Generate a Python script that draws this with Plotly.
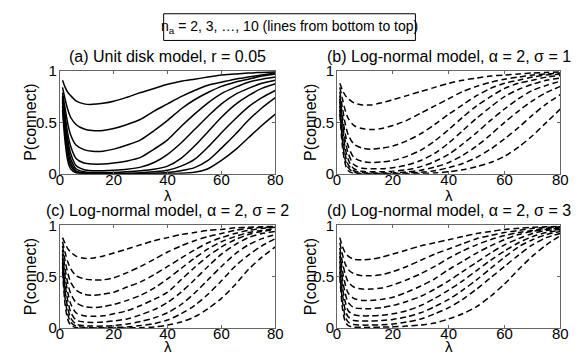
import plotly.graph_objects as go

# ---------------- data ----------------
LAMBDA = [1, 2, 3, 4, 6, 9, 12, 16, 20, 25, 30, 35, 40, 45, 50, 55, 60, 65, 70, 75, 80]
N_A = [2, 3, 4, 5, 6, 7, 8, 9, 10]

# (a) Unit disk model, r = 0.05  (one list per n_a, bottom to top)
P_UNIT_DISK = [
    [0.62, 0.30, 0.12, 0.05, 0.01, 0.002, 0.0, 0.0, 0.0, 0.0, 0.0, 0.001, 0.002, 0.005, 0.015, 0.05, 0.13, 0.23, 0.35, 0.47, 0.58],
    [0.66, 0.36, 0.17, 0.08, 0.02, 0.004, 0.002, 0.001, 0.001, 0.001, 0.002, 0.006, 0.012, 0.03, 0.06, 0.13, 0.25, 0.38, 0.52, 0.64, 0.74],
    [0.70, 0.42, 0.22, 0.11, 0.03, 0.009, 0.005, 0.004, 0.004, 0.006, 0.01, 0.02, 0.035, 0.075, 0.14, 0.26, 0.40, 0.53, 0.65, 0.74, 0.81],
    [0.72, 0.47, 0.27, 0.15, 0.05, 0.02, 0.013, 0.012, 0.013, 0.02, 0.03, 0.045, 0.075, 0.15, 0.27, 0.41, 0.55, 0.67, 0.76, 0.83, 0.875],
    [0.74, 0.51, 0.32, 0.20, 0.08, 0.04, 0.03, 0.03, 0.035, 0.045, 0.065, 0.11, 0.19, 0.30, 0.43, 0.56, 0.68, 0.77, 0.83, 0.88, 0.91],
    [0.76, 0.56, 0.38, 0.27, 0.15, 0.105, 0.095, 0.095, 0.105, 0.125, 0.16, 0.24, 0.33, 0.46, 0.58, 0.69, 0.78, 0.84, 0.89, 0.92, 0.94],
    [0.79, 0.63, 0.48, 0.38, 0.28, 0.235, 0.22, 0.22, 0.24, 0.28, 0.33, 0.42, 0.52, 0.63, 0.72, 0.79, 0.85, 0.89, 0.92, 0.95, 0.97],
    [0.84, 0.72, 0.62, 0.55, 0.48, 0.435, 0.42, 0.42, 0.44, 0.48, 0.53, 0.61, 0.68, 0.75, 0.81, 0.86, 0.89, 0.92, 0.94, 0.96, 0.98],
    [0.91, 0.84, 0.79, 0.76, 0.71, 0.68, 0.675, 0.685, 0.705, 0.745, 0.79, 0.83, 0.87, 0.90, 0.92, 0.94, 0.96, 0.97, 0.98, 0.985, 0.99],
]

# (b) Log-normal model, alpha = 2, sigma = 1
P_LOGNORM_S1 = [
    [0.58, 0.25, 0.09, 0.03, 0.005, 0.001, 0.0, 0.0, 0.0, 0.001, 0.003, 0.008, 0.02, 0.04, 0.07, 0.11, 0.17, 0.26, 0.37, 0.50, 0.63],
    [0.62, 0.31, 0.13, 0.06, 0.015, 0.005, 0.003, 0.003, 0.004, 0.008, 0.015, 0.03, 0.06, 0.10, 0.16, 0.24, 0.34, 0.45, 0.57, 0.68, 0.77],
    [0.66, 0.37, 0.18, 0.09, 0.03, 0.012, 0.008, 0.008, 0.01, 0.018, 0.035, 0.065, 0.11, 0.18, 0.27, 0.38, 0.50, 0.61, 0.71, 0.79, 0.85],
    [0.70, 0.43, 0.24, 0.14, 0.05, 0.025, 0.02, 0.02, 0.025, 0.04, 0.07, 0.12, 0.19, 0.29, 0.40, 0.52, 0.63, 0.73, 0.81, 0.86, 0.90],
    [0.73, 0.49, 0.31, 0.20, 0.09, 0.055, 0.05, 0.05, 0.06, 0.085, 0.13, 0.20, 0.30, 0.42, 0.54, 0.65, 0.75, 0.82, 0.87, 0.91, 0.93],
    [0.76, 0.55, 0.38, 0.27, 0.16, 0.12, 0.11, 0.115, 0.13, 0.17, 0.23, 0.32, 0.43, 0.55, 0.66, 0.75, 0.83, 0.88, 0.91, 0.94, 0.955],
    [0.80, 0.63, 0.48, 0.38, 0.29, 0.25, 0.24, 0.25, 0.27, 0.32, 0.39, 0.48, 0.58, 0.67, 0.76, 0.83, 0.88, 0.91, 0.94, 0.96, 0.97],
    [0.84, 0.72, 0.61, 0.54, 0.47, 0.44, 0.43, 0.44, 0.47, 0.52, 0.59, 0.66, 0.73, 0.80, 0.85, 0.89, 0.92, 0.94, 0.96, 0.97, 0.98],
    [0.88, 0.81, 0.76, 0.73, 0.69, 0.67, 0.67, 0.69, 0.72, 0.76, 0.80, 0.84, 0.88, 0.91, 0.93, 0.95, 0.96, 0.97, 0.98, 0.985, 0.99],
]

# (c) Log-normal model, alpha = 2, sigma = 2
P_LOGNORM_S2 = [
    [0.55, 0.22, 0.08, 0.03, 0.006, 0.002, 0.001, 0.001, 0.001, 0.002, 0.005, 0.012, 0.03, 0.06, 0.11, 0.19, 0.29, 0.42, 0.57, 0.69, 0.79],
    [0.60, 0.28, 0.13, 0.06, 0.02, 0.008, 0.005, 0.005, 0.007, 0.012, 0.025, 0.045, 0.08, 0.14, 0.22, 0.33, 0.46, 0.60, 0.71, 0.80, 0.87],
    [0.64, 0.35, 0.19, 0.10, 0.04, 0.025, 0.02, 0.02, 0.025, 0.04, 0.065, 0.10, 0.15, 0.23, 0.34, 0.47, 0.60, 0.72, 0.81, 0.87, 0.91],
    [0.68, 0.42, 0.26, 0.16, 0.08, 0.06, 0.055, 0.06, 0.07, 0.09, 0.13, 0.18, 0.25, 0.35, 0.47, 0.60, 0.72, 0.81, 0.88, 0.92, 0.94],
    [0.72, 0.49, 0.34, 0.24, 0.15, 0.12, 0.115, 0.12, 0.14, 0.17, 0.22, 0.28, 0.35, 0.47, 0.59, 0.70, 0.79, 0.86, 0.91, 0.94, 0.96],
    [0.76, 0.57, 0.43, 0.34, 0.25, 0.21, 0.20, 0.21, 0.23, 0.27, 0.32, 0.39, 0.48, 0.58, 0.68, 0.77, 0.84, 0.89, 0.93, 0.95, 0.97],
    [0.80, 0.65, 0.53, 0.45, 0.37, 0.33, 0.32, 0.33, 0.35, 0.40, 0.45, 0.52, 0.60, 0.68, 0.76, 0.83, 0.88, 0.92, 0.95, 0.97, 0.98],
    [0.84, 0.73, 0.64, 0.58, 0.51, 0.48, 0.47, 0.47, 0.49, 0.54, 0.60, 0.67, 0.74, 0.80, 0.85, 0.89, 0.92, 0.95, 0.97, 0.98, 0.985],
    [0.88, 0.82, 0.77, 0.74, 0.70, 0.68, 0.68, 0.70, 0.73, 0.77, 0.81, 0.85, 0.88, 0.91, 0.93, 0.95, 0.96, 0.975, 0.98, 0.985, 0.99],
]

# (d) Log-normal model, alpha = 2, sigma = 3
P_LOGNORM_S3 = [
    [0.50, 0.18, 0.06, 0.025, 0.01, 0.008, 0.008, 0.01, 0.013, 0.02, 0.03, 0.05, 0.09, 0.14, 0.21, 0.31, 0.43, 0.57, 0.70, 0.81, 0.90],
    [0.55, 0.25, 0.11, 0.06, 0.035, 0.03, 0.03, 0.033, 0.04, 0.06, 0.09, 0.14, 0.20, 0.28, 0.38, 0.49, 0.60, 0.71, 0.81, 0.88, 0.92],
    [0.60, 0.32, 0.17, 0.11, 0.075, 0.07, 0.07, 0.075, 0.085, 0.11, 0.15, 0.21, 0.28, 0.37, 0.47, 0.58, 0.69, 0.79, 0.86, 0.91, 0.94],
    [0.65, 0.39, 0.25, 0.17, 0.13, 0.12, 0.12, 0.125, 0.14, 0.17, 0.22, 0.29, 0.37, 0.46, 0.56, 0.66, 0.75, 0.83, 0.89, 0.93, 0.95],
    [0.70, 0.47, 0.33, 0.25, 0.20, 0.19, 0.19, 0.20, 0.22, 0.26, 0.31, 0.38, 0.46, 0.55, 0.64, 0.73, 0.81, 0.87, 0.92, 0.95, 0.96],
    [0.74, 0.55, 0.42, 0.34, 0.29, 0.27, 0.27, 0.28, 0.30, 0.35, 0.41, 0.48, 0.57, 0.65, 0.73, 0.80, 0.86, 0.91, 0.94, 0.96, 0.97],
    [0.78, 0.63, 0.52, 0.45, 0.40, 0.38, 0.38, 0.39, 0.42, 0.47, 0.53, 0.60, 0.68, 0.75, 0.81, 0.86, 0.90, 0.93, 0.95, 0.97, 0.98],
    [0.83, 0.71, 0.62, 0.57, 0.53, 0.51, 0.51, 0.52, 0.55, 0.60, 0.66, 0.72, 0.77, 0.82, 0.87, 0.90, 0.93, 0.95, 0.97, 0.98, 0.985],
    [0.88, 0.79, 0.73, 0.70, 0.67, 0.665, 0.67, 0.69, 0.72, 0.76, 0.80, 0.83, 0.86, 0.89, 0.92, 0.94, 0.96, 0.97, 0.98, 0.985, 0.99],
]

TITLES = [
    "(a) Unit disk model, r = 0.05",
    "(b) Log-normal model, \u03b1 = 2, \u03c3 = 1",
    "(c) Log-normal model, \u03b1 = 2, \u03c3 = 2",
    "(d) Log-normal model, \u03b1 = 2, \u03c3 = 3",
]
X_TICKS = [0, 20, 40, 60, 80]
Y_TICKS = [0, 0.5, 1]
Y_TICK_TEXT = ["0", "0.5", "1"]
LEGEND_TEXT = "n<sub>a</sub> = 2, 3, \u2026, 10 (lines from bottom to top)"

# ---------------- layout helpers ----------------
W, H = 586, 360
FONT = "Liberation Sans, Arial, sans-serif"


def fx(x):
    return x / W


def fy(y):
    return 1 - y / H


# pixel boxes of the four axes: (left, right, top, bottom)
BOXES = [(57, 277, 65, 173), (340, 568, 65, 173), (57, 277, 227, 335), (340, 568, 227, 335)]
DATASETS = [P_UNIT_DISK, P_LOGNORM_S1, P_LOGNORM_S2, P_LOGNORM_S3]
DASHES = ["solid", "6px,3.5px", "6px,3.5px", "6px,3.5px"]

fig = go.Figure()
annotations = []
layout_axes = {}

for i, (box, data, dash, title) in enumerate(zip(BOXES, DATASETS, DASHES, TITLES)):
    k = "" if i == 0 else str(i + 1)
    xa, ya = "x" + k, "y" + k
    l, r, t, b = box
    for n, ys in zip(N_A, data):
        fig.add_trace(go.Scatter(
            x=LAMBDA, y=ys, xaxis=xa, yaxis=ya, mode="lines",
            line=dict(color="black", width=1.5, dash=dash, shape="spline", smoothing=0.8),
            name=f"n_a = {n}", showlegend=False, hoverinfo="skip",
        ))
    common = dict(showline=True, linecolor="#666", linewidth=1, mirror="ticks",
                  ticks="inside", ticklen=3, tickcolor="#666", showgrid=False,
                  zeroline=False, tickfont=dict(family=FONT, size=15, color="black"))
    layout_axes["xaxis" + k] = dict(domain=[fx(l), fx(r)], anchor=ya, range=[0, 80],
                                    tickvals=X_TICKS, ticklabelstandoff=-8, **common)
    layout_axes["yaxis" + k] = dict(domain=[fy(b), fy(t)], anchor=xa, range=[0, 1],
                                    tickvals=Y_TICKS, ticktext=Y_TICK_TEXT, ticklabelstandoff=-1, **common)
    cx = (l + r) / 2
    annotations.append(dict(text=title, x=fx(cx), y=fy(t - 15), xref="paper", yref="paper",
                            xanchor="center", yanchor="middle", showarrow=False,
                            font=dict(family=FONT, size=16, color="black")))
    annotations.append(dict(text="\u03bb", x=fx(cx), y=fy(b + 23 if i < 2 else b + 19.5), xref="paper", yref="paper",
                            xanchor="center", yanchor="middle", showarrow=False,
                            font=dict(family=FONT, size=15, color="black")))
    annotations.append(dict(text="P(connect)", x=fx(l - 30 if l < 100 else l - 27), y=fy((t + b) / 2),
                            xref="paper", yref="paper", xanchor="center", yanchor="middle",
                            textangle=-90, showarrow=False,
                            font=dict(family=FONT, size=16, color="black")))

annotations.append(dict(text=LEGEND_TEXT, x=fx(291), y=fy(19), xref="paper", yref="paper",
                        xanchor="center", yanchor="middle", showarrow=False,
                        font=dict(family=FONT, size=14, color="black")))

fig.update_layout(
    width=W, height=H, margin=dict(l=0, r=0, t=0, b=0),
    paper_bgcolor="white", plot_bgcolor="white",
    showlegend=False, annotations=annotations,
    shapes=[dict(type="rect", xref="paper", yref="paper", x0=fx(163), x1=fx(420),
                 y0=fy(33), y1=fy(5), line=dict(color="black", width=1))],
    **layout_axes,
)

fig.write_html("out.html", config={"displayModeBar": False},
               post_script="document.body.style.margin='0';")
